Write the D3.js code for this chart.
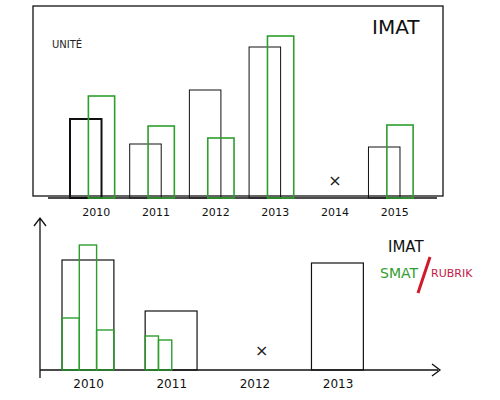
<!DOCTYPE html>
<html><head><meta charset="utf-8">
<script src="https://cdn.jsdelivr.net/npm/d3@7"></script>
<style>body{margin:0;background:#fff}</style></head>
<body><div id="chart"></div>
<script>
// top panel: IMAT totals and SMAT (green) per year, null = no data
const topYears = ["2010", "2011", "2012", "2013", "2014", "2015"];
const topImat = [79, 54, 108, 151, null, 51];
const topSmat = [102, 72, 60, 162, null, 73];

// bottom panel: IMAT total plus SMAT breakdown
const botYears = ["2010", "2011", "2012", "2013"];
const botImat = [110, 59, null, 107];
const botSmat = [[52, 125, 40], [34, 30], [], []];

const green = "#2e9e2e";
const svg = d3.select("#chart").append("svg").attr("width", 500).attr("height", 400)
    .style("font-family", "'DejaVu Sans', sans-serif");

// ---- top panel
svg.append("rect").attr("x", 33).attr("y", 6).attr("width", 410).attr("height", 190)
    .attr("fill", "none").attr("stroke", "#111").attr("stroke-width", 1.3);

const x1 = d3.scaleBand().domain(topYears).range([70, 421]).paddingInner(0.12);
const y1 = d3.scaleLinear().domain([0, 170]).range([198, 28]);

svg.append("line").attr("x1", 48).attr("x2", 437).attr("y1", 198).attr("y2", 198)
    .attr("stroke", "#111").attr("stroke-width", 1.3);

const g1 = svg.append("g");
topYears.forEach((yr, i) => {
    const x0 = x1(yr), bw = x1.bandwidth();
    if (topImat[i] == null) {
        g1.append("text").attr("x", x0 + bw / 2).attr("y", y1(0) - 12).attr("text-anchor", "middle")
            .attr("font-size", 16).attr("fill", "#222").text("×");
        return;
    }
    g1.append("rect").attr("x", x0).attr("y", y1(topImat[i]))
        .attr("width", bw * 0.6).attr("height", y1(0) - y1(topImat[i]))
        .attr("fill", "none").attr("stroke", "#111").attr("stroke-width", i === 0 ? 2 : 1);
    g1.append("rect").attr("x", x0 + bw * 0.35).attr("y", y1(topSmat[i]))
        .attr("width", bw * 0.5).attr("height", y1(0) - y1(topSmat[i]))
        .attr("fill", "none").attr("stroke", green).attr("stroke-width", 1.6);
});
g1.selectAll("text.yr").data(topYears).join("text").attr("class", "yr")
    .attr("x", d => x1(d) + x1.bandwidth() / 2).attr("y", 216).attr("text-anchor", "middle")
    .attr("font-size", 11).attr("fill", "#111").text(d => d);

svg.append("text").attr("x", 52).attr("y", 48).attr("font-size", 10).attr("fill", "#222").text("UNITÉ");
svg.append("text").attr("x", 372).attr("y", 34).attr("font-size", 20).attr("fill", "#111").text("IMAT");

// ---- bottom panel
const x2 = d3.scaleBand().domain(botYears).range([62, 378]).paddingInner(0.2);
const y2 = d3.scaleLinear().domain([0, 150]).range([370, 220]);

svg.append("path").attr("d", "M40,378 L40,218 M34,226 L40,218 L46,226 M40,370 L438,370 M432,364 L440,370 L432,376")
    .attr("fill", "none").attr("stroke", "#111").attr("stroke-width", 1.3);

const g2 = svg.append("g");
botYears.forEach((yr, i) => {
    const x0 = x2(yr), bw = x2.bandwidth();
    if (botImat[i] == null) {
        g2.append("text").attr("x", x0 + bw / 2).attr("y", y2(0) - 14).attr("text-anchor", "middle")
            .attr("font-size", 16).attr("fill", "#222").text("×");
        return;
    }
    g2.append("rect").attr("x", x0).attr("y", y2(botImat[i]))
        .attr("width", bw * 0.78).attr("height", y2(0) - y2(botImat[i]))
        .attr("fill", "none").attr("stroke", "#111").attr("stroke-width", 1.2);
    const n = botSmat[i].length;
    const sw = i === 0 ? bw * 0.78 / n : bw * 0.2;
    botSmat[i].forEach((v, j) => {
        g2.append("rect").attr("x", x0 + j * sw).attr("y", y2(v))
            .attr("width", sw).attr("height", y2(0) - y2(v))
            .attr("fill", "none").attr("stroke", green).attr("stroke-width", 1.4);
    });
});
g2.selectAll("text.yr").data(botYears).join("text").attr("class", "yr")
    .attr("x", d => x2(d) + x2.bandwidth() * 0.4).attr("y", 388).attr("text-anchor", "middle")
    .attr("font-size", 12).attr("fill", "#111").text(d => d);

svg.append("text").attr("x", 388).attr("y", 252).attr("font-size", 15).attr("fill", "#111").text("IMAT");
svg.append("text").attr("x", 380).attr("y", 278).attr("font-size", 14).attr("fill", green).text("SMAT");
svg.append("line").attr("x1", 418).attr("y1", 293).attr("x2", 430).attr("y2", 257)
    .attr("stroke", "#d01a2a").attr("stroke-width", 3);
svg.append("text").attr("x", 431).attr("y", 277).attr("font-size", 11).attr("fill", "#c2184a").text("RUBRIK");
</script></body></html>
